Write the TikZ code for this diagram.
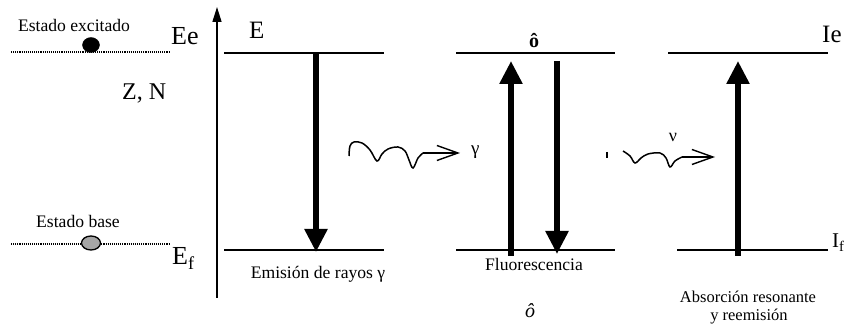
\documentclass[tikz,border=0pt]{standalone}
\usepackage{fontspec}
\setmainfont{Liberation Serif}
\usetikzlibrary{arrows.meta,shapes.geometric}
\begin{document}
\begin{tikzpicture}[x=1pt,y=-1pt,
  level/.style={line width=1.6pt},
  dots/.style={densely dotted,line width=1.1pt},
  trans/.style={line width=5.5pt,-{Triangle[length=23pt,width=22pt]}},
  wave/.style={line width=1.5pt},
  barb/.style={line width=1.4pt,-{Straight Barb[length=21pt,width=15pt,line width=1.4pt]}},
  lbl/.style={inner sep=0pt,anchor=base,font=\fontsize{17.6}{19}\selectfont},
  big/.style={inner sep=0pt,anchor=base west,font=\fontsize{25}{27}\selectfont}]
\useasboundingbox (0,0) rectangle (848,328);
% left states
\coordinate (d1a) at (11,52); \coordinate (d1b) at (170,52);
\coordinate (d2a) at (11,244); \coordinate (d2b) at (170,244);
\draw[dots] (d1a) -- (d1b);
\draw[dots] (d2a) -- (d2b);
\node[draw,fill=black,ellipse,minimum width=17pt,minimum height=15pt,inner sep=0pt] (exc) at (91,45) {};
\node[draw,line width=1.3pt,fill=black!35,ellipse,minimum width=19pt,minimum height=14pt,inner sep=0pt] (base) at (91,243) {};
\node[lbl] (lexc) at (74,32) {Estado excitado};
\node[lbl] (lbase) at (78,228) {Estado base};
\node[big,font=\fontsize{26}{28}\selectfont] (Ee) at (171,45) {Ee};
\node[big,font=\fontsize{24}{26}\selectfont] (ZN) at (122,100) {Z, N};
\node[big,font=\fontsize{26}{28}\selectfont] (Ef) at (172,265) {E\textsubscript{f}};
% axis
\coordinate (ax0) at (217,298); \coordinate (ax1) at (217,7);
\draw[line width=1.5pt,-{Triangle[length=15pt,width=9pt]}] (ax0) -- (ax1);
\node[big] (E) at (249,39) {E};
% level lines
\coordinate (t1a) at (224,53); \coordinate (t1b) at (384,53);
\coordinate (b1a) at (224,250); \coordinate (b1b) at (384,250);
\coordinate (t2a) at (456,53); \coordinate (t2b) at (615,53);
\coordinate (b2a) at (456,250); \coordinate (b2b) at (615,250);
\coordinate (t3a) at (668,53); \coordinate (t3b) at (828,53);
\coordinate (b3a) at (677,250); \coordinate (b3b) at (828,250);
\foreach \a/\b in {t1a/t1b,b1a/b1b,t2a/t2b,b2a/b2b,t3a/t3b,b3a/b3b} \draw[level] (\a) -- (\b);
\node[big] (Ie) at (822,43) {Ie};
\node[big,font=\fontsize{21}{23}\selectfont] (If) at (832,248) {I\textsubscript{f}};
\node[inner sep=0pt,anchor=base,font=\fontsize{20}{22}\selectfont\bfseries] (o1) at (534,48) {ô};
% transitions
\coordinate (a1s) at (316,53); \coordinate (a1e) at (316,252);
\draw[trans] (a1s) -- (a1e);
\coordinate (a2s) at (511,256); \coordinate (a2e) at (511,61);
\draw[trans] (a2s) -- (a2e);
\coordinate (a3s) at (557,61); \coordinate (a3e) at (557,254);
\draw[trans] (a3s) -- (a3e);
\coordinate (a4s) at (738,256); \coordinate (a4e) at (738,61);
\draw[trans] (a4s) -- (a4e);
% wavy photons
\coordinate (w1s) at (349,156); \coordinate (w1m) at (423,153); \coordinate (w1e) at (460,153);
\draw[wave] plot[smooth,tension=0.6] coordinates {(w1s) (350,146) (354,142) (362,143) (370,150) (377,161) (382,154) (388,149) (398,147) (405,151) (409,160) (413,168) (418,158) (w1m)};
\draw[barb] (w1m) -- (w1e);
\node[inner sep=0pt,anchor=base west,font=\fontsize{19}{21}\selectfont] (g1) at (471,155) {γ};
\coordinate (w2s) at (607,152); \coordinate (w2m) at (682,157); \coordinate (w2e) at (715,157);
\draw[wave] (w2s) -- (607,158);
\draw[wave] plot[smooth,tension=0.6] coordinates {(623,151) (630,156) (635,163) (641,158) (648,154) (660,153) (666,158) (670,167) (675,161) (w2m)};
\draw[barb] (w2m) -- (w2e);
\node[inner sep=0pt,anchor=base,font=\fontsize{18}{20}\selectfont] (nu) at (673,142) {ν};
% captions
\node[lbl] (c1) at (318,279) {Emisión de rayos γ};
\node[lbl] (c2) at (534,271) {Fluorescencia};
\node[inner sep=0pt,anchor=base,font=\fontsize{20}{22}\selectfont\itshape] (o2) at (530,318) {ô};
\node[lbl,font=\fontsize{16.5}{18}\selectfont] (c3) at (748,303) {Absorción resonante};
\node[lbl,font=\fontsize{16.5}{18}\selectfont] (c4) at (749,320) {y reemisión};
\end{tikzpicture}
\end{document}
